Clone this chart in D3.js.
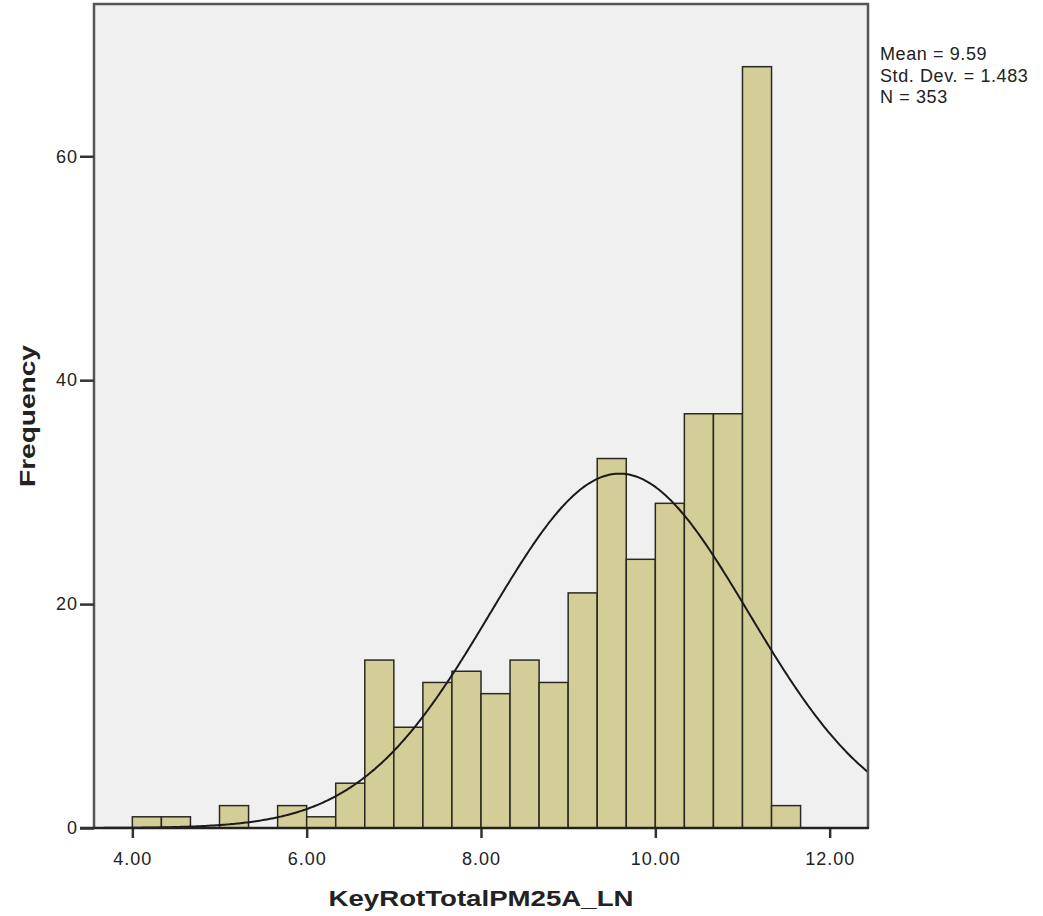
<!DOCTYPE html>
<html lang="en">
<head>
<meta charset="utf-8">
<title>Histogram</title>
<script src="https://d3js.org/d3.v7.min.js"></script>
<style>
  body { margin: 0; background: #ffffff; }
  svg text { font-family: "Liberation Sans", Arial, sans-serif; fill: #222; }
</style>
</head>
<body>
<div id="chart"></div>
<script>
// bin start values (bin width 1/3)
var binStarts = [4.0, 4.3333, 4.6667, 5.0, 5.3333, 5.6667, 6.0, 6.3333, 6.6667, 7.0, 7.3333,
                 7.6667, 8.0, 8.3333, 8.6667, 9.0, 9.3333, 9.6667, 10.0, 10.3333, 10.6667, 11.0, 11.3333];
var binCounts = [1, 1, 0, 2, 0, 2, 1, 4, 15, 9, 13,
                 14, 12, 15, 13, 21, 33, 24, 29, 37, 37, 68, 2];
var binWidth = 1 / 3;
var xTicks = [4, 6, 8, 10, 12];
var yTicks = [0, 20, 40, 60];
var statLines = ["Mean = 9.59", "Std. Dev. = 1.483", "N = 353"];
var mean = 9.59, sd = 1.483, n = 353;

var width = 1043, height = 916;
// plot area edges
var plotL = 94, plotR = 868, plotT = 4, plotB = 828;

var svg = d3.select("#chart").append("svg")
    .attr("width", width)
    .attr("height", height);

// scales
var xScale = d3.scaleLinear().domain([3.56, 12.44]).range([plotL, plotR]);
var yScale = d3.scaleLinear().domain([0, 73.6]).range([plotB, plotT]);

// plot background
svg.append("rect")
    .attr("x", plotL).attr("y", plotT)
    .attr("width", plotR - plotL).attr("height", plotB - plotT)
    .attr("fill", "#f0f0f0");

svg.append("clipPath").attr("id", "plotClip")
  .append("rect")
    .attr("x", plotL).attr("y", plotT)
    .attr("width", plotR - plotL).attr("height", plotB - plotT);

// bars
svg.selectAll("rect.bar")
    .data(binStarts.map(function(s, i){ return {x0: s, count: binCounts[i]}; })
                   .filter(function(d){ return d.count > 0; }))
    .enter()
    .append("rect")
    .attr("class", "bar")
    .attr("x", function(d){ return xScale(d.x0); })
    .attr("y", function(d){ return yScale(d.count); })
    .attr("width", function(d){ return xScale(d.x0 + binWidth) - xScale(d.x0); })
    .attr("height", function(d){ return yScale(0) - yScale(d.count); })
    .attr("fill", "#d3ce97")
    .attr("stroke", "#2a2a22")
    .attr("stroke-width", 1.5);

// normal curve from the reported stats
var curvePts = d3.range(3.56, 12.45, 0.02).map(function(x){
    var z = (x - mean) / sd;
    return [x, n * binWidth * Math.exp(-0.5 * z * z) / (sd * Math.sqrt(2 * Math.PI))];
});
svg.append("path")
    .datum(curvePts)
    .attr("clip-path", "url(#plotClip)")
    .attr("fill", "none")
    .attr("stroke", "#1a1a1a")
    .attr("stroke-width", 2)
    .attr("d", d3.line()
        .x(function(d){ return xScale(d[0]); })
        .y(function(d){ return yScale(d[1]); }));

// frame (top, right, left)
svg.append("path")
    .attr("d", "M" + plotL + "," + plotB + "V" + plotT + "H" + plotR + "V" + plotB)
    .attr("fill", "none")
    .attr("stroke", "#555")
    .attr("stroke-width", 2.5);

// x axis
var xAxis = svg.append("g")
    .attr("transform", "translate(0," + plotB + ")")
    .call(d3.axisBottom(xScale).tickValues(xTicks).tickFormat(d3.format(".2f"))
        .tickSize(10).tickSizeOuter(0));
xAxis.select(".domain").remove();
xAxis.append("line")
    .attr("x1", 80).attr("x2", plotR + 1)
    .attr("stroke", "#222").attr("stroke-width", 2.5);
xAxis.selectAll(".tick line").attr("stroke", "#333").attr("stroke-width", 2.5);
xAxis.selectAll(".tick text")
    .attr("y", 24)
    .attr("font-size", 18)
    .attr("letter-spacing", 1)
    .attr("font-family", "Liberation Sans, Arial, sans-serif")
    .attr("fill", "#222");

// y axis
var yAxis = svg.append("g")
    .attr("transform", "translate(" + plotL + ",0)")
    .call(d3.axisLeft(yScale).tickValues(yTicks).tickFormat(d3.format("d"))
        .tickSize(14).tickSizeOuter(0));
yAxis.select(".domain").remove();
yAxis.selectAll(".tick line").attr("stroke", "#333").attr("stroke-width", 2.5);
yAxis.selectAll(".tick text")
    .attr("x", -16)
    .attr("font-size", 18)
    .attr("letter-spacing", 1)
    .attr("font-family", "Liberation Sans, Arial, sans-serif")
    .attr("fill", "#222");

// axis titles
svg.append("text")
    .attr("x", xScale(8))
    .attr("y", 906)
    .attr("text-anchor", "middle")
    .attr("font-size", 22)
    .attr("font-weight", "bold")
    .attr("textLength", 305)
    .attr("lengthAdjust", "spacingAndGlyphs")
    .attr("fill", "#111")
    .text("KeyRotTotalPM25A_LN");

svg.append("text")
    .attr("transform", "translate(35,416) rotate(-90)")
    .attr("text-anchor", "middle")
    .attr("font-size", 22)
    .attr("font-weight", "bold")
    .attr("textLength", 142)
    .attr("lengthAdjust", "spacingAndGlyphs")
    .attr("fill", "#111")
    .text("Frequency");

// stats box text
svg.selectAll("text.stat")
    .data(statLines)
    .enter()
    .append("text")
    .attr("class", "stat")
    .attr("x", 880)
    .attr("y", function(d, i){ return 60 + i * 21.5; })
    .attr("font-size", 18)
    .attr("letter-spacing", 0.6)
    .attr("fill", "#111")
    .text(function(d){ return d; });
</script>
</body>
</html>
